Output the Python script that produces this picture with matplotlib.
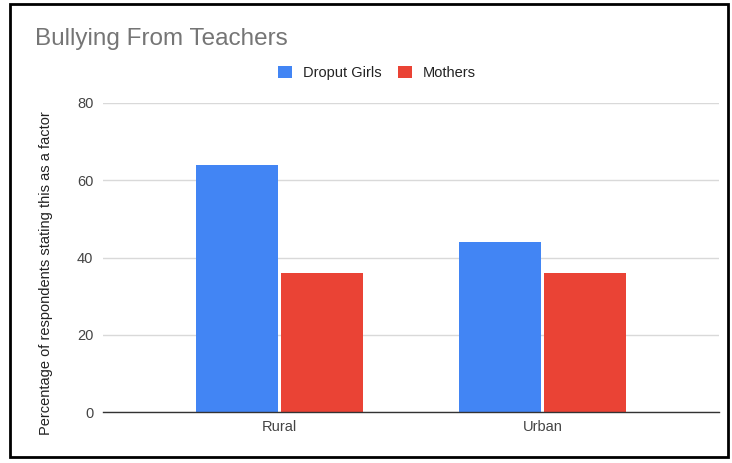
import numpy as np
import matplotlib
matplotlib.use('Agg')
import matplotlib.pyplot as plt
from matplotlib.patches import Rectangle

plt.rcParams['font.family'] = ['Liberation Sans', 'DejaVu Sans']

categories = ['Rural', 'Urban']
series_names = ['Droput Girls', 'Mothers']
droput_girls = [64, 44]
mothers = [36, 36]
yticks = [0, 20, 40, 60, 80]

fig = plt.figure(figsize=(7.32, 4.63), dpi=100)
W, H = 732, 463
ax = fig.add_axes([103 / W, 1 - 412 / H, (719 - 103) / W, (412 - 103) / H])

x = np.arange(len(categories))
w = 0.312
gap = 0.006
ax.bar(x - w / 2 - gap, droput_girls, w, color='#4285f4', label=series_names[0])
ax.bar(x + w / 2 + gap, mothers, w, color='#ea4335', label=series_names[1])

ax.set_xlim(-0.671, 1.671)
ax.set_ylim(0, 80)
ax.set_yticks(yticks)
ax.set_xticks(x)
ax.set_xticklabels(categories)
ax.tick_params(axis='both', length=0, labelsize=10.5, labelcolor='#444444')
ax.tick_params(axis='y', pad=7)
ax.tick_params(axis='x', pad=6)
ax.grid(axis='y', color='#d9d9d9', linewidth=1)
ax.set_axisbelow(True)
for s in ['top', 'right', 'left']:
    ax.spines[s].set_visible(False)
ax.spines['bottom'].set_color('#333333')
ax.spines['bottom'].set_linewidth(1)
ax.spines['bottom'].set_zorder(3)

ax.set_ylabel('Percentage of respondents stating this as a factor',
              fontsize=10.5, color='#222222', labelpad=20)
ax.yaxis.set_label_coords(-50 / (719 - 103), 0.45)

fig.text(35 / W, 1 - 39 / H, 'Bullying From Teachers', fontsize=17.5,
         color='#757575', va='center', ha='left')

fig.legend(loc='center', bbox_to_anchor=(377 / W, 1 - 73 / H), ncol=2,
           frameon=False, fontsize=10.5, handlelength=0.95, handleheight=0.95,
           columnspacing=1.1, handletextpad=0.75, labelcolor='#222222')

fig.patches.append(Rectangle((10 / W, 1 - 457 / H), (728 - 10) / W, (457 - 4) / H,
                             transform=fig.transFigure, fill=False,
                             edgecolor='black', linewidth=2))

fig.savefig('out.png', dpi=100)
